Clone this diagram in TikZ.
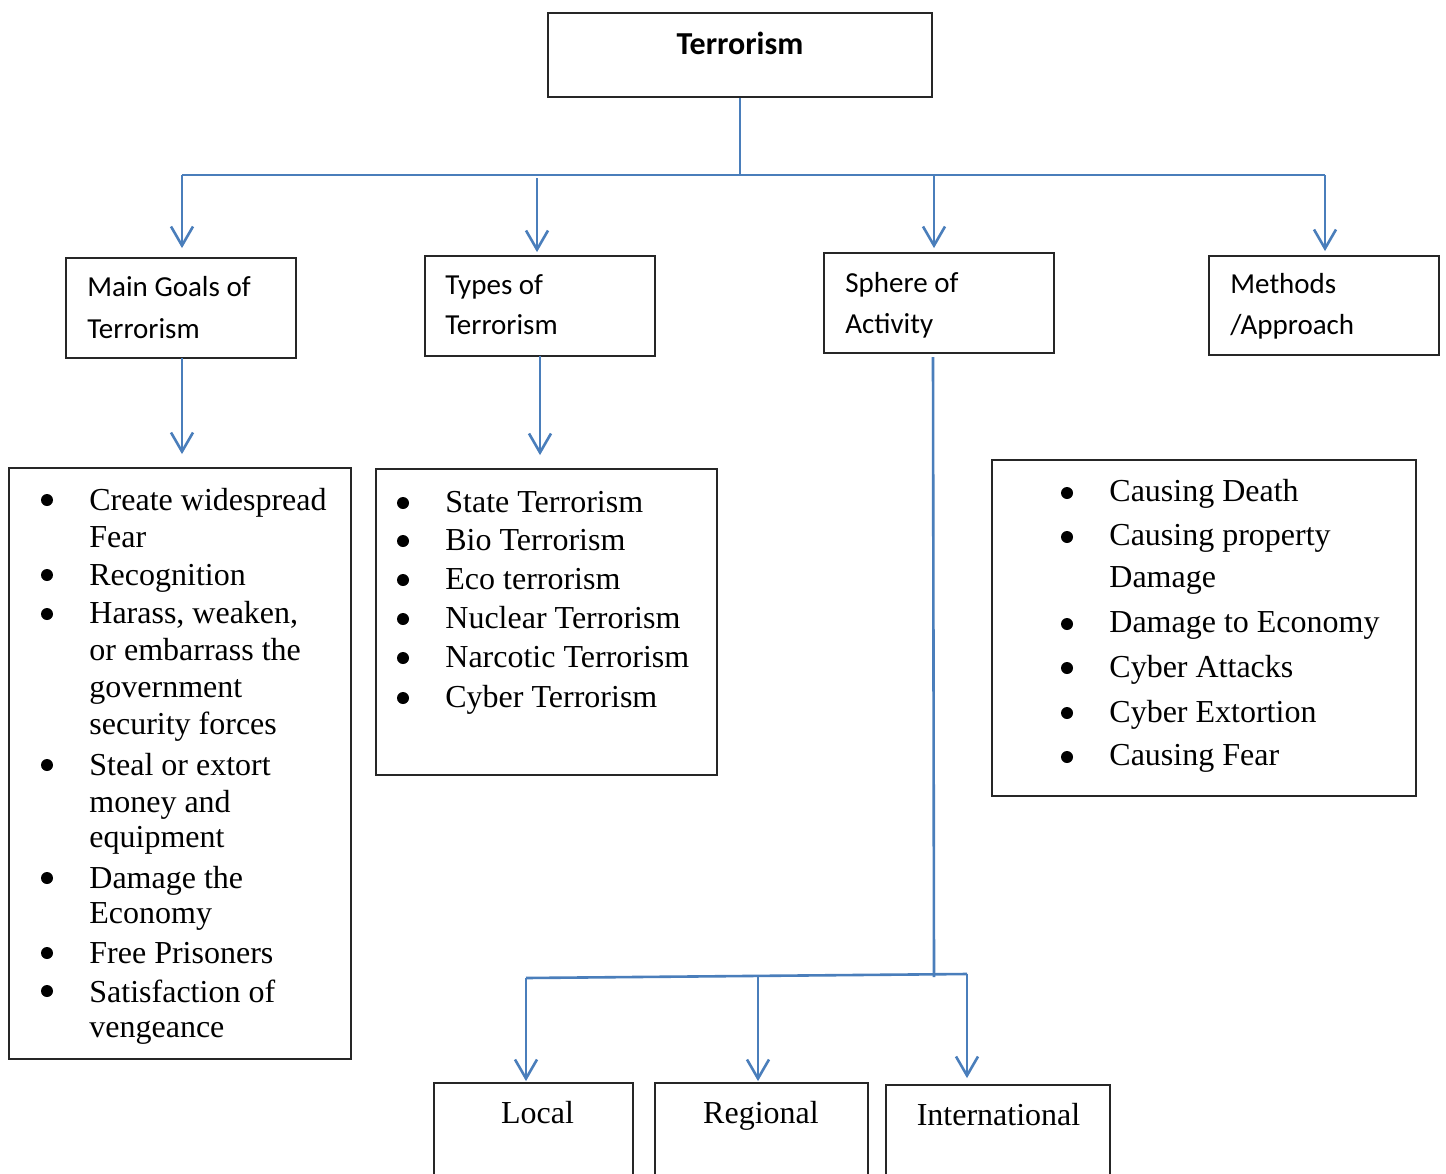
\documentclass[tikz,border=0pt]{standalone}
\usepackage{fontspec}
\setmainfont{Liberation Serif}
\newfontfamily\calfont{Carlito}
\usetikzlibrary{arrows.meta}
\definecolor{lineblue}{HTML}{4A7EBB}
\tikzset{
  box/.style={draw=black!85, line width=0.9pt, rectangle, inner sep=0pt},
  link/.style={draw=lineblue, line width=1.3pt},
  arr/.style={link, -{Straight Barb[length=9.5pt,width=11pt]}},
  head/.style={font=\calfont\fontsize{14.5}{17}\selectfont, anchor=base west, inner sep=0pt},
  ttl/.style={font=\calfont\bfseries\fontsize{16}{19}\selectfont, anchor=base, inner sep=0pt},
  itm/.style={font=\fontsize{16}{19}\selectfont, anchor=base west, inner sep=0pt},
  itc/.style={font=\fontsize{16}{19}\selectfont, anchor=base, inner sep=0pt},
  bul/.style={circle, fill=black, inner sep=0pt, minimum size=6pt},
}
\begin{document}
\begin{tikzpicture}[x=0.5pt,y=-0.5pt]
\useasboundingbox (0,0) rectangle (1446,1173);
\clip (0,0) rectangle (1446,1173);
\fill[white] (0,0) rectangle (1446,1173);
% boxes
\node[box, minimum width=192pt, minimum height=42pt] (terror) at (740,55) {};
\node[box, minimum width=115pt, minimum height=50pt] (goals) at (181,308) {};
\node[box, minimum width=115pt, minimum height=50pt] (types) at (540,306) {};
\node[box, minimum width=115pt, minimum height=50pt] (sphere) at (939,303) {};
\node[box, minimum width=115pt, minimum height=49.5pt] (methods) at (1324,305.5) {};
\node[box, minimum width=171pt, minimum height=295.5pt] (goalsl) at (180,763.5) {};
\node[box, minimum width=170.5pt, minimum height=153pt] (typesl) at (546.5,622) {};
\node[box, minimum width=212pt, minimum height=168pt] (methodsl) at (1204,628) {};
\node[box, minimum width=99.5pt, minimum height=60pt] (local) at (533.5,1143) {};
\node[box, minimum width=106.5pt, minimum height=60pt] (regional) at (761.5,1143) {};
\node[box, minimum width=112pt, minimum height=60pt] (intl) at (998,1145) {};
% titles
\node[ttl] (tterror) at (740,54) {Terrorism};
\node[head] (tg1) at (87,296) {Main Goals of};
\node[head] (tg2) at (87,338) {Terrorism};
\node[head] (tt1) at (445,294) {Types of};
\node[head] (tt2) at (445,334) {Terrorism};
\node[head] (ts1) at (845,292) {Sphere of};
\node[head] (ts2) at (845,333) {Activity};
\node[head] (tm1) at (1230,293) {Methods};
\node[head] (tm2) at (1230,334) {/Approach};
% goals list
\foreach \y/\t [count=\i] in {510/{Create widespread},547/{Fear},585/{Recognition},623/{Harass, weaken,},660/{or embarrass the},697/{government},734/{security forces},775/{Steal or extort},812/{money and},847/{equipment},888/{Damage the},923/{Economy},963/{Free Prisoners},1002/{Satisfaction of},1037/{vengeance}}
  \node[itm] (gl\i) at (89,\y) {\t};
\foreach \y [count=\i] in {500,575,614,765,878,953,991}
  \node[bul] (gb\i) at (47,\y) {};
% types list
\foreach \y/\t [count=\i] in {512/{State Terrorism},550/{Bio Terrorism},589/{Eco terrorism},628/{Nuclear Terrorism},667/{Narcotic Terrorism},707/{Cyber Terrorism}}
  {\node[itm] (tl\i) at (445,\y) {\t};
   \node[bul] (tb\i) at (403,\y-9) {};}
% methods list
\foreach \y/\t [count=\i] in {501/{Causing Death},545/{Causing property},587/{Damage},632/{Damage to Economy},677/{Cyber Attacks},722/{Cyber Extortion},765/{Causing Fear}}
  \node[itm] (ml\i) at (1109,\y) {\t};
\foreach \y [count=\i] in {493,537,624,668,713,757}
  \node[bul] (mb\i) at (1067,\y) {};
% bottom labels
\node[itc] (tlocal) at (537.5,1123) {Local};
\node[itc] (tregional) at (761,1123) {Regional};
\node[itc] (tintl) at (998.5,1125) {International};
% connectors
\coordinate (busL) at (182,175);
\coordinate (busM) at (740,175);
\coordinate (busR) at (1325,175);
\coordinate (tA) at (537,178);
\coordinate (sA) at (934,175);
\draw[link] (terror.south) -- (busM);
\draw[link] (busL) -- (busR);
\draw[arr, shorten >=4.5pt] (busL) -- (busL |- goals.north);
\draw[arr, shorten >=1.5pt] (tA) -- (tA |- types.north);
\draw[arr, shorten >=2pt] (sA) -- (sA |- sphere.north);
\draw[arr, shorten >=2pt] (busR) -- (busR |- methods.north);
\coordinate (gD) at (182,358);
\coordinate (tD) at (540,356);
\draw[arr, shorten >=6.5pt] (gD) -- (gD |- goalsl.north);
\draw[arr, shorten >=6.5pt] (tD) -- (tD |- typesl.north);
\coordinate (sD) at (933,357);
\coordinate (sJ) at (934,977);
\coordinate (bL) at (526,978);
\coordinate (bM) at (758,976);
\coordinate (bR) at (967,974);
\draw[link] (sD) -- (sJ);
\draw[link] (bL) -- (bR);
\draw[arr, shorten >=0.5pt] (bL) -- (bL |- local.north);
\draw[arr, shorten >=0.5pt] (bM) -- (bM |- regional.north);
\draw[arr, shorten >=3pt] (bR) -- (bR |- intl.north);
\end{tikzpicture}
\end{document}
